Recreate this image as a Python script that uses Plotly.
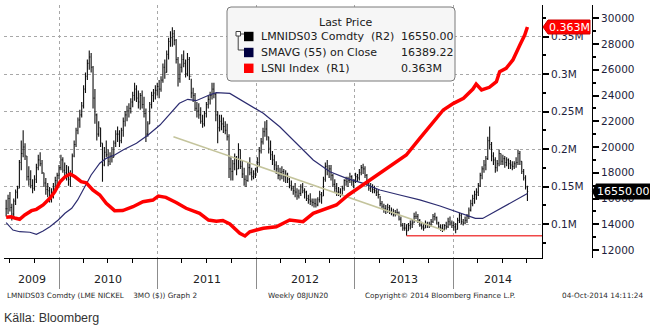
import plotly.graph_objects as go
import pandas as pd

# ---------------- data ----------------
# LMNIDS03 Comdty weekly bars (Fridays) starting 2009-06-19
week_start = "2009-06-19"
high = [
    15900, 16300,                              # 2009 Jun
    16500, 15600, 16000, 16700, 17000,         # Jul
    19000, 20500, 21300, 20300,                # Aug
    19300, 18500, 18200, 17500,                # Sep
    17800, 18700, 19400, 19600, 19000,         # Oct
    18000, 17600, 17200, 16900,                # Nov
    16800, 17200, 17700, 18000,                # Dec
    18600, 19400, 19200, 18800, 18600,         # 2010 Jan
    18500, 18200, 19500, 20500,                # Feb
    21500, 22300, 22900, 23500,                # Mar
    24800, 25800, 26800, 27500, 27300,         # Apr
    26300, 24500, 22600, 22000,                # May
    21500, 20300, 20000, 20500,                # Jun
    19800, 19600, 20000, 20500, 21300,         # Jul
    21600, 21300, 21500, 22300,                # Aug
    22800, 23200, 23400, 23800,                # Sep
    24300, 25000, 24800, 24400, 24200,         # Oct
    24400, 23900, 23000, 22000,                # Nov
    23500, 24300, 24500, 24800, 25000,         # Dec
    25200, 25500, 26500, 26800,                # 2011 Jan
    27500, 28500, 29000, 29300,                # Feb
    29100, 28400, 27000, 26500,                # Mar
    27200, 27500, 26800, 27300, 27000,         # Apr
    25300, 24600, 24200, 23500,                # May
    23400, 23100, 22500, 22800,                # Jun
    23500, 24000, 24300, 25000, 25000,         # Jul
    24200, 22800, 22500, 22500,                # Aug
    22300, 22000, 21800, 21000, 19200,         # Sep
    19000, 19500, 19300, 20300,                # Oct
    19800, 19000, 18400, 17800,                # Nov
    18800, 19200, 18400, 18200, 18400,         # Dec
    19200, 20000, 20700, 21500,                # 2012 Jan
    22000, 22100, 20800, 20500,                # Feb
    19700, 19400, 18900, 18600, 18400,         # Mar
    18500, 18300, 18200, 18000,                # Apr
    17600, 17400, 17000, 17200,                # May
    16800, 16700, 17100, 17200, 16800,         # Jun
    16600, 16300, 16400, 16000,                # Jul
    16000, 16000, 16100, 16600, 16500,         # Aug
    17700, 18800, 19000, 18600,                # Sep
    18600, 17900, 17500, 17200,                # Oct
    16900, 16800, 17000, 17500, 17700,         # Nov
    17700, 18000, 17800, 17500,                # Dec
    18000, 17900, 18300, 18600,                # 2013 Jan
    18700, 18500, 17900, 17400,                # Feb
    17200, 17100, 17000, 16800, 16700,         # Mar
    16200, 15800, 15600, 15500,                # Apr
    15600, 15500, 15300, 15200, 15100,         # May
    15200, 15000, 14600, 14100,                # Jun
    14100, 14000, 14100, 14300,                # Jul
    14400, 14900, 15000, 14800, 14400,         # Aug
    14200, 14000, 14300, 14200,                # Sep
    14200, 14400, 14800, 14900,                # Oct
    14600, 14200, 14000, 14000, 14000,         # Nov
    14200, 14500, 14600, 14300,                # Dec
    14200, 14100, 14500, 14900, 14800,         # 2014 Jan
    14400, 14600, 14800, 15300,                # Feb
    15900, 16300, 16600, 16800,                # Mar
    17200, 18000, 18500, 19000,                # Apr
    19300, 20800, 21600, 20400, 19600,         # May
    19200, 19000, 19800, 19500,                # Jun
    19400, 19300, 19200, 19100,                # Jul
    19000, 18900, 18900, 19200, 19800,         # Aug
    19700, 18900, 18300, 17800,                # Sep
    17000,                                     # Oct
]
low = [
    14600, 14800,
    15000, 14300, 14500, 15500, 16000,
    16800, 18200, 19200, 19000,
    17400, 17000, 16800, 16400,
    16600, 17200, 18200, 18500, 17900,
    16900, 16300, 16100, 15700,
    15700, 16000, 16800, 17000,
    17500, 18200, 18000, 17600, 17400,
    17000, 16900, 17800, 19200,
    20000, 21000, 21500, 22300,
    23000, 24200, 25200, 26000, 25800,
    23000, 21800, 20500, 20800,
    20000, 17300, 18500, 19200,
    18500, 18600, 18800, 19200, 20000,
    20400, 20000, 20300, 20800,
    21600, 22000, 22300, 22600,
    23100, 23600, 23500, 23000, 22900,
    23000, 22300, 20400, 20800,
    21800, 23000, 23500, 23700, 24000,
    23800, 24300, 25000, 25300,
    25800, 26800, 27800, 27800,
    27900, 26500, 24700, 25000,
    25800, 26200, 25400, 25500, 25200,
    23800, 23500, 22800, 22300,
    22200, 21800, 21500, 21600,
    22300, 23000, 23300, 23700, 23800,
    22000, 20300, 21200, 21300,
    21100, 21000, 20500, 17600, 17400,
    17400, 18200, 17800, 18300,
    18300, 17600, 17000, 16900,
    17300, 17800, 17400, 17500, 17600,
    18000, 18500, 19500, 20200,
    20800, 20500, 19500, 19000,
    18600, 18200, 17900, 17500, 17400,
    17500, 17300, 17200, 17200,
    16800, 16600, 16300, 16100,
    15900, 16000, 16200, 16400, 16000,
    15800, 15600, 15500, 15400,
    15300, 15300, 15400, 15700, 15600,
    16200, 17300, 17800, 17600,
    17400, 16900, 16500, 16200,
    16200, 16100, 16300, 16600, 17000,
    16900, 17200, 17000, 16800,
    17200, 17300, 17400, 17800,
    17900, 17600, 17000, 16600,
    16500, 16400, 16400, 16200, 16000,
    15400, 15200, 14900, 14800,
    14900, 14800, 14700, 14600, 14600,
    14700, 14300, 13800, 13500,
    13500, 13100, 13500, 13600,
    13700, 14100, 14400, 14100, 13800,
    13600, 13500, 13700, 13700,
    13700, 13800, 14100, 14300,
    14000, 13700, 13500, 13400, 13500,
    13600, 13700, 13900, 13700,
    13500, 13300, 13600, 14100, 14000,
    13900, 14000, 14100, 14400,
    15000, 15400, 15600, 15900,
    16200, 16900, 17500, 18000,
    18200, 19000, 19800, 18900, 18600,
    18000, 18100, 18500, 18600,
    18600, 18400, 18500, 18300,
    18300, 18200, 18300, 18400, 18600,
    18600, 17900, 17400, 16700,
    15800,
]
close = [
    15200, 16000,
    15300, 14800, 15800, 16500, 16800,
    18800, 19500, 20000, 19300,
    17700, 17500, 17000, 16800,
    17500, 18400, 19000, 18700, 18000,
    17200, 16700, 16600, 16100,
    16500, 16800, 17400, 17800,
    18400, 19000, 18200, 18000, 17800,
    17500, 17800, 19300, 20200,
    21300, 22100, 22500, 23200,
    24500, 25500, 26500, 27000, 26200,
    23800, 22500, 21000, 21500,
    20300, 18600, 19600, 19400,
    18900, 19300, 19200, 20300, 21000,
    21000, 20500, 21300, 22000,
    22500, 22800, 23000, 23500,
    24000, 24500, 23800, 23500, 24000,
    23300, 22600, 21000, 21800,
    23300, 24000, 24200, 24400, 24700,
    24500, 25200, 26200, 25800,
    27200, 28200, 28500, 28800,
    28300, 26800, 25300, 26200,
    26800, 26500, 25700, 26800, 25500,
    24200, 24000, 23000, 22800,
    22500, 22000, 21800, 22600,
    23300, 23700, 24000, 24500, 24100,
    22500, 21500, 22000, 21800,
    21600, 21300, 20800, 18300, 18100,
    18700, 19200, 18300, 19800,
    18500, 17900, 17500, 17400,
    18400, 18000, 17700, 17900, 18200,
    18800, 19700, 20400, 21200,
    21400, 20800, 19900, 19400,
    19000, 18600, 18300, 17800, 18000,
    18100, 17700, 17900, 17500,
    17000, 16800, 16600, 16500,
    16200, 16400, 16900, 16600, 16500,
    16000, 15900, 15800, 15700,
    15600, 15500, 15900, 16300, 16200,
    17500, 18500, 18200, 18300,
    17800, 17100, 16800, 16500,
    16500, 16300, 16800, 17400, 17300,
    17400, 17700, 17300, 17300,
    17700, 17600, 18000, 18400,
    18300, 17800, 17200, 16800,
    16900, 16700, 16600, 16500, 16300,
    15600, 15400, 15200, 15100,
    15300, 15000, 14900, 14800, 14900,
    14900, 14400, 13900, 13700,
    13700, 13500, 13900, 14000,
    14100, 14600, 14600, 14300, 13900,
    13800, 13700, 14000, 13900,
    14000, 14200, 14600, 14500,
    14100, 13800, 13700, 13600, 13900,
    13800, 14200, 14100, 13900,
    13800, 13600, 14300, 14700, 14200,
    14100, 14300, 14600, 15100,
    15600, 16000, 16300, 16500,
    17000, 17800, 18300, 18600,
    19100, 20500, 20200, 19300, 19000,
    18400, 18700, 19500, 18900,
    19100, 18800, 19000, 18700,
    18600, 18500, 18700, 18800, 19500,
    18900, 18100, 17600, 16900,
    16550,
]

# SMAVG (55) on Close
sma_dates = ["2009-06-19", "2009-07-14", "2009-08-08", "2009-09-15", "2009-10-09",
             "2009-11-03", "2009-11-28", "2009-12-29", "2010-01-23", "2010-02-17",
             "2010-03-11", "2010-04-05", "2010-04-30", "2010-06-01", "2010-06-25",
             "2010-07-26", "2010-08-26", "2010-10-15", "2010-11-27", "2011-01-10",
             "2011-02-16", "2011-03-23", "2011-04-23", "2011-05-24", "2011-07-12",
             "2011-08-07", "2011-09-26", "2011-11-27", "2012-01-28", "2012-03-29",
             "2012-05-30", "2012-07-31", "2012-10-01", "2012-12-02", "2013-02-02",
             "2013-04-04", "2013-06-17", "2013-08-30", "2013-11-13", "2014-01-02",
             "2014-02-20", "2014-03-24", "2014-04-20", "2014-10-03"]
sma_vals = [14120, 13550, 13420, 13380, 13220,
            13480, 13810, 14330, 14850, 15240,
            15890, 16920, 17830, 18740, 19120,
            19380, 19770, 20290, 20940, 21710,
            22620, 23400, 23710, 23600, 24040,
            24220, 24170, 23400, 22620, 21580,
            20290, 18990, 18080, 17570, 17180,
            16660, 16270, 15890, 15420, 15070,
            14680, 14460, 14450, 16389.22]

# LSNI Index (LME nickel stocks, tonnes)
lsni_dates = ["2009-06-19", "2009-07-08", "2009-07-24", "2009-08-08", "2009-08-27",
              "2009-09-21", "2009-10-09", "2009-11-03", "2009-11-28", "2009-12-16",
              "2010-01-05", "2010-01-23", "2010-02-11", "2010-03-01", "2010-03-24",
              "2010-04-12", "2010-05-06", "2010-06-01", "2010-06-25", "2010-07-26",
              "2010-08-25", "2010-10-02", "2010-11-08", "2010-12-15", "2011-01-04",
              "2011-02-01", "2011-03-11", "2011-04-17", "2011-06-06", "2011-07-09",
              "2011-08-07", "2011-08-31", "2011-09-26", "2011-11-02", "2011-11-21",
              "2011-12-09", "2012-01-28", "2012-03-16", "2012-05-05", "2012-06-23",
              "2012-07-31", "2012-09-06", "2012-10-25", "2012-12-08", "2013-01-21",
              "2013-02-27", "2013-04-04", "2013-05-23", "2013-07-11", "2013-08-30",
              "2013-10-18", "2013-11-25", "2014-01-02", "2014-02-08", "2014-03-15",
              "2014-03-27", "2014-04-16", "2014-05-15", "2014-06-10", "2014-06-22",
              "2014-07-16", "2014-08-10", "2014-09-05", "2014-09-23", "2014-10-03"]
lsni_vals = [108900, 109700, 107600, 106300, 112000,
             117800, 119600, 125400, 134300, 143000,
             156500, 163000, 166800, 163000, 156500,
             155000, 145400, 138700, 127600, 117800,
             118000, 123100, 129800, 132000, 137400,
             135600, 128700, 121000, 114300, 105300,
             103700, 104700, 100000, 87600, 84000,
             89700, 94300, 96400, 105300, 103100,
             114300, 118700, 125400, 138700, 149800,
             158700, 167700, 180100, 192100, 214400,
             236600, 252200, 261100, 267800, 280200,
             286900, 278900, 282500, 290000, 303300,
             307900, 319000, 339000, 352300, 363000]

# drawn trend line and support level (price axis)
trend_dates = ["2011-03-01", "2013-12-01"]
trend_vals = [20800, 13500]
support_dates = ["2013-07-12", "2014-11-26"]
support_vals = [13110, 13110]

legend_names = ["LMNIDS03 Comdty  (R2)", "SMAVG (55) on Close", "LSNI Index  (R1)"]
legend_values = ["16550.00", "16389.22", "0.363M"]
legend_colors = ["#000000", "#000040", "#ff0000"]

r1_ticks = [100000, 150000, 200000, 250000, 300000, 350000]
r1_text = ["0.1M", "0.15M", "0.2M", "0.25M", "0.3M", "0.35M"]
r1_minor = [75000, 125000, 175000, 225000, 275000, 325000, 375000]
r2_ticks = list(range(12000, 30001, 2000))
r2_text = [str(v) for v in r2_ticks]
r2_minor = list(range(13000, 31000, 2000))
years = [2009, 2010, 2011, 2012, 2013, 2014]
x_range = ["2009-06-11", "2014-11-26"]

footer = [
    (5, "LMNIDS03 Comdty (LME NICKEL\u00a0\u00a0\u00a0 3MO ($)) Graph 2"),
    (266, "Weekly 08JUN20"),
    (363, "Copyright\u00a9 2014 Bloomberg Finance L.P."),
    (560, "04-Oct-2014 14:11:24"),
]

# ---------------- geometry helpers ----------------
W, H = 654, 328
ML, MR, MT, MB = 4, 0, 5, 70
PW, PH = W - ML - MR, H - MT - MB
def fx(px):
    return (px - ML) / PW
def fy(py):
    return (H - MB - py) / PH

weeks = pd.date_range(week_start, periods=len(close), freq="W-FRI")
opens = [close[0]] + close[:-1]

FONT = "DejaVu Sans, Verdana, sans-serif"
TXT = "#1e1e3c"

fig = go.Figure()
fig.add_trace(go.Ohlc(
    x=weeks, open=opens, high=high, low=low, close=close,
    increasing=dict(line=dict(color="#111111", width=1.1)),
    decreasing=dict(line=dict(color="#111111", width=1.1)),
    tickwidth=0.4, xaxis="x", yaxis="y", hoverinfo="skip"))
fig.add_trace(go.Scatter(x=sma_dates, y=sma_vals, mode="lines",
                         line=dict(color="#2c2c70", width=1.2), yaxis="y"))
fig.add_trace(go.Scatter(x=trend_dates, y=trend_vals, mode="lines",
                         line=dict(color="#c4c49c", width=1.5), yaxis="y"))
fig.add_trace(go.Scatter(x=support_dates, y=support_vals, mode="lines",
                         line=dict(color="#f04848", width=1.5), yaxis="y"))
fig.add_trace(go.Scatter(x=lsni_dates, y=lsni_vals, mode="lines",
                         line=dict(color="#ff0000", width=3.5), yaxis="y2"))

shapes = []
annotations = []

def rrect(x0, y0, x1, y1, r):
    X, Y = fx, fy
    return (f"M {X(x0+r)},{Y(y0)} L {X(x1-r)},{Y(y0)} Q {X(x1)},{Y(y0)} {X(x1)},{Y(y0+r)} "
            f"L {X(x1)},{Y(y1-r)} Q {X(x1)},{Y(y1)} {X(x1-r)},{Y(y1)} "
            f"L {X(x0+r)},{Y(y1)} Q {X(x0)},{Y(y1)} {X(x0)},{Y(y1-r)} "
            f"L {X(x0)},{Y(y0+r)} Q {X(x0)},{Y(y0)} {X(x0+r)},{Y(y0)} Z")

# legend box
shapes.append(dict(type="path", xref="paper", yref="paper", path=rrect(227, 7, 455, 81, 4),
                   fillcolor="#f6f6f6", line=dict(color="#7a7a7a", width=1), layer="above"))
annotations.append(dict(xref="paper", yref="paper", x=fx(345), y=fy(22.5), text="Last Price",
                        showarrow=False, xanchor="center", yanchor="middle",
                        font=dict(family=FONT, size=11, color="#202020")))
rows_y = [36.5, 52.5, 68.3]
for name, val, col, ry in zip(legend_names, legend_values, legend_colors, rows_y):
    shapes.append(dict(type="rect", xref="paper", yref="paper", x0=fx(244), x1=fx(253.5),
                       y0=fy(ry - 4.7), y1=fy(ry + 4.7), fillcolor=col, line=dict(width=0), layer="above"))
    annotations.append(dict(xref="paper", yref="paper", x=fx(258.5), y=fy(ry), text=name,
                            showarrow=False, xanchor="left", yanchor="middle",
                            font=dict(family=FONT, size=11, color="#202020")))
    annotations.append(dict(xref="paper", yref="paper", x=fx(399), y=fy(ry), text=val,
                            showarrow=False, xanchor="left", yanchor="middle",
                            font=dict(family=FONT, size=11, color="#202020")))
# tree connector
shapes.append(dict(type="rect", xref="paper", yref="paper", x0=fx(236), x1=fx(240.5),
                   y0=fy(31.5), y1=fy(36), line=dict(color="#404040", width=1),
                   fillcolor="white", layer="above"))
for (ax0, ay0, ax1, ay1) in [(240.5, 34, 244, 34), (238.2, 36, 238.2, 50), (238.2, 50, 244, 50)]:
    shapes.append(dict(type="line", xref="paper", yref="paper", x0=fx(ax0), y0=fy(ay0),
                       x1=fx(ax1), y1=fy(ay1), line=dict(color="#404040", width=1), layer="above"))

# value callouts (they cover the axis labels underneath, as in the original)
shapes.append(dict(type="path", xref="paper", yref="y2", xsizemode="pixel", ysizemode="pixel",
                   xanchor=fx(542), yanchor=lsni_vals[-1],
                   path="M 1 0 L 6 7 L 48 7 L 48 -7 L 6 -7 Z",
                   fillcolor="#ff0000", line=dict(color="#d00000", width=1), layer="above"))
annotations.append(dict(xref="paper", yref="y2", x=fx(569), y=lsni_vals[-1], text="0.363M",
                        showarrow=False, xanchor="center", yanchor="middle",
                        font=dict(family=FONT, size=11, color="white")))
shapes.append(dict(type="path", xref="paper", yref="y", xsizemode="pixel", ysizemode="pixel",
                   xanchor=fx(592), yanchor=close[-1],
                   path="M 0 0 L 4 8 L 58 8 L 58 -8 L 4 -8 Z",
                   fillcolor="#000000", line=dict(width=0), layer="above"))
annotations.append(dict(xref="paper", yref="y", x=fx(623), y=close[-1], text="16550.00",
                        showarrow=False, xanchor="center", yanchor="middle",
                        font=dict(family=FONT, size=11, color="white")))

# year labels centred on the visible part of each year
r0, r1 = pd.Timestamp(x_range[0]), pd.Timestamp(x_range[1])
for yr in years:
    a = max(pd.Timestamp(f"{yr}-01-01"), r0)
    b = min(pd.Timestamp(f"{yr+1}-01-01"), r1)
    mid = a + (b - a) / 2
    annotations.append(dict(xref="x", yref="paper", x=mid, y=fy(279), text=str(yr),
                            showarrow=False, xanchor="center", yanchor="middle",
                            font=dict(family=FONT, size=11, color="#202020")))

for fxp, txt in footer:
    annotations.append(dict(xref="paper", yref="paper", x=fx(fxp), y=fy(295), text=txt,
                            showarrow=False, xanchor="left", yanchor="middle",
                            font=dict(family=FONT, size=7.3, color="#2a2a2a")))
annotations.append(dict(xref="paper", yref="paper", x=fx(2), y=fy(318), text="Källa: Bloomberg",
                        showarrow=False, xanchor="left", yanchor="middle",
                        font=dict(family="Liberation Sans Narrow, Arial Narrow, sans-serif",
                                  size=12.5, color="#333333")))

fig.update_layout(
    width=W, height=H, margin=dict(l=ML, r=MR, t=MT, b=MB),
    paper_bgcolor="white", plot_bgcolor="white", showlegend=False,
    shapes=shapes, annotations=annotations,
    xaxis=dict(domain=[0, fx(542)], range=x_range, type="date",
               showline=True, linecolor="black", linewidth=1,
               ticks="outside", ticklen=30, tickcolor="#8c8c8c", tickwidth=1,
               tick0="2010-01-01", dtick="M12", showticklabels=False,
               showgrid=True, gridcolor="#a8a8a8", griddash="dot", gridwidth=1,
               minor=dict(dtick="M3", tick0="2010-01-01", ticks="outside", ticklen=4,
                          tickcolor="black", showgrid=False),
               zeroline=False, rangeslider=dict(visible=False)),
    yaxis=dict(range=[11378, 31036], anchor="free", position=fx(592), side="right",
               showline=True, linecolor="black", linewidth=1,
               tickmode="array", tickvals=r2_ticks, ticktext=r2_text,
               ticks="outside", ticklen=6, tickwidth=2,
               tickcolor="black", showgrid=False, zeroline=False,
               tickfont=dict(family=FONT, size=10.5, color=TXT),
               minor=dict(tickmode="array", tickvals=r2_minor, ticks="outside", ticklen=3,
                          tickcolor="black", showgrid=False)),
    yaxis2=dict(range=[54607, 392390], overlaying="y", anchor="x", side="right",
                showline=True, linecolor="black", linewidth=1,
                tickmode="array", tickvals=r1_ticks, ticktext=r1_text,
                ticks="outside", ticklen=6, tickwidth=2, tickcolor="black",
                showgrid=True, gridcolor="#a8a8a8", griddash="dot", gridwidth=1,
                zeroline=False, tickfont=dict(family=FONT, size=10.5, color=TXT),
                minor=dict(tickmode="array", tickvals=r1_minor, ticks="outside", ticklen=3,
                           tickcolor="black", showgrid=False)),
)

fig.write_html("out.html")
